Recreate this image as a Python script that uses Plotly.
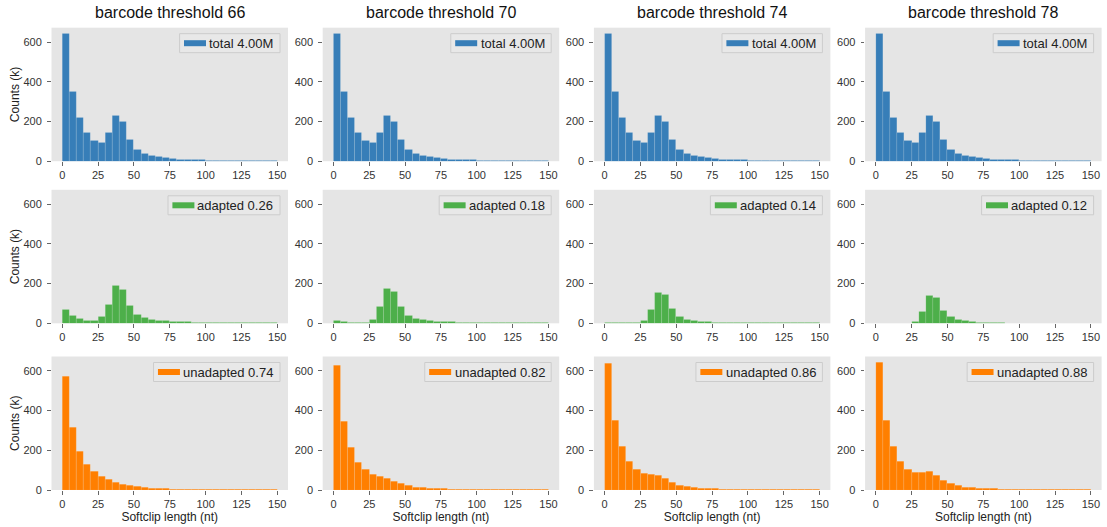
import plotly.graph_objects as go

W, H = 1107, 527
FONT = "Liberation Sans, Arial, Helvetica, sans-serif"

# ---------------- data (counts in thousands, 5-nt bins from 0 to 150) ----------------
bin_edges = list(range(0, 155, 5))
thresholds = [66, 70, 74, 78]

total_counts = [640, 348, 217, 143, 104, 94, 145, 227, 198, 109, 60, 39, 29, 22, 17,
                13, 10, 8, 7, 6, 5, 4, 3.5, 3, 2.5, 2, 1.5, 1, 0.8, 0.5]

adapted_66 = [70, 38, 23, 15, 12, 32, 95, 187, 170, 87, 43, 27, 20, 15, 12,
              9, 7, 6, 5, 4, 3, 3, 2, 2, 1.5, 1, 1, 0.5, 0.5, 0.3]
adapted_70 = [15, 10, 5, 3, 5, 20, 83, 175, 158, 82, 38, 23, 17, 12, 10,
              8, 6, 5, 4, 3, 3, 2, 2, 1.5, 1, 1, 0.5, 0.5, 0.3, 0.2]
adapted_74 = [1, 0.5, 0.5, 0.5, 1, 15, 70, 155, 145, 73, 35, 18, 12, 8, 6,
              5, 4, 3, 3, 2, 2, 1.5, 1, 1, 0.5, 0.5, 0.3, 0.3, 0.2, 0.1]
adapted_78 = [0, 0, 0, 0, 0, 8, 57, 137, 130, 63, 32, 18, 12, 7, 5,
              4, 3, 2, 0, 0, 0, 0, 0, 0, 0, 0, 0, 0, 0, 0]

unadapted_66 = [569, 314, 196, 130, 95, 69, 52, 40, 30, 23, 17, 13, 10, 8, 6,
                5, 4, 3.5, 3, 2.5, 2, 1.5, 1.2, 1, 0.8, 0.6, 0.5, 0.4, 0.3, 0.2]
unadapted_70 = [625, 346, 216, 140, 104, 77, 67, 57, 42, 32, 22, 15, 12, 9, 7,
                6, 5, 4, 3.5, 3, 2.5, 2, 1.5, 1.2, 1, 0.8, 0.6, 0.4, 0.3, 0.2]
unadapted_74 = [638, 350, 219, 144, 105, 82, 77, 73, 57, 38, 25, 17, 12, 9, 7,
                6, 5, 4, 3.5, 3, 2.5, 2, 1.5, 1.2, 1, 0.8, 0.6, 0.4, 0.3, 0.2]
unadapted_78 = [640, 351, 219, 144, 105, 87, 90, 94, 74, 49, 32, 22, 15, 11, 9,
                7, 6, 5, 4, 3.5, 3, 2.5, 2, 1.5, 1.2, 1, 0.8, 0.5, 0.3, 0.2]

total_label = "total 4.00M"
adapted_fracs = [0.26, 0.18, 0.14, 0.12]
unadapted_fracs = [0.74, 0.82, 0.86, 0.88]

x_ticks = [0, 25, 50, 75, 100, 125, 150]
y_ticks = [0, 200, 400, 600]

COL_BLUE = "#377eb8"
COL_GREEN = "#4daf4a"
COL_ORANGE = "#ff7f00"

# ---------------- layout geometry (pixels) ----------------
col_left = [51.5, 322.7, 593.9, 865.1]
col_w = 236.5
row_bottom = [161.2, 323.3, 490.0]
row_h = 133.5

def px2x(px):
    return px / W

def px2y(py):
    return 1 - py / H

# Arial / Liberation Sans advance widths (em)
CW = {c: 0.556 for c in "0123456789aodpeun"}
CW.update({".": 0.278, " ": 0.278, "t": 0.278, "l": 0.222, "M": 0.833})

def text_w(s, size):
    return sum(CW.get(c, 0.556) for c in s) * size

centers = [(a + b) / 2 for a, b in zip(bin_edges[:-1], bin_edges[1:])]
adapted = [adapted_66, adapted_70, adapted_74, adapted_78]
unadapted = [unadapted_66, unadapted_70, unadapted_74, unadapted_78]

fig = go.Figure()
shapes = []
annotations = []
layout_axes = {}

LEG_FS = 13

for r in range(3):
    for c in range(4):
        i = r * 4 + c + 1
        if r == 0:
            vals, col, lab = total_counts, COL_BLUE, total_label
        elif r == 1:
            vals, col, lab = adapted[c], COL_GREEN, f"adapted {adapted_fracs[c]:.2f}"
        else:
            vals, col, lab = unadapted[c], COL_ORANGE, f"unadapted {unadapted_fracs[c]:.2f}"
        xa = "x" if i == 1 else f"x{i}"
        ya = "y" if i == 1 else f"y{i}"
        fig.add_trace(go.Bar(
            x=centers, y=vals, width=5, name=lab,
            marker=dict(color=col, line=dict(color="rgba(255,255,255,0.22)", width=0.5)),
            xaxis=xa, yaxis=ya, showlegend=False,
        ))
        L = col_left[c]
        R = L + col_w
        B = row_bottom[r]
        T = B - row_h
        key = "" if i == 1 else str(i)
        layout_axes[f"xaxis{key}"] = dict(
            domain=[px2x(L), px2x(R)], anchor=ya, range=[-7.5, 157.5],
            tickvals=x_ticks, ticks="outside", ticklen=3.5, tickwidth=1, tickcolor="#666",
            showgrid=False, zeroline=False, showline=False,
            tickfont=dict(size=11, color="#333", family=FONT),
            title=dict(text="Softclip length (nt)" if r == 2 else "",
                       font=dict(size=12, color="#222", family=FONT), standoff=2),
            automargin=False,
        )
        layout_axes[f"yaxis{key}"] = dict(
            domain=[px2y(B), px2y(T)], anchor=xa, range=[0, 672],
            tickvals=y_ticks, ticks="outside", ticklen=3.5, tickwidth=1, tickcolor="#666",
            showgrid=False, zeroline=False, showline=False,
            tickfont=dict(size=11, color="#333", family=FONT),
            ticklabelstandoff=3,
            title=dict(text="Counts (k)" if c == 0 else "",
                       font=dict(size=12, color="#222", family=FONT), standoff=1),
            automargin=False,
        )
        # legend box
        box_r = R - 8
        box_t = T + 6
        box_b = box_t + 19
        box_cy = (box_t + box_b) / 2
        txt_r = box_r - 4.7
        txt_l = txt_r - text_w(lab, LEG_FS)
        sw_r = txt_l - 5
        sw_l = sw_r - 22
        box_l = sw_l - 4.4
        shapes.append(dict(type="rect", xref="paper", yref="paper",
                           x0=px2x(box_l), x1=px2x(box_r), y0=px2y(box_b), y1=px2y(box_t),
                           fillcolor="#e8e8e8", line=dict(color="#cccccc", width=1), layer="above"))
        shapes.append(dict(type="rect", xref="paper", yref="paper",
                           x0=px2x(sw_l), x1=px2x(sw_r), y0=px2y(box_cy + 3), y1=px2y(box_cy - 3),
                           fillcolor=col, line=dict(width=0), layer="above"))
        annotations.append(dict(text=lab, xref="paper", yref="paper", x=px2x(txt_r), y=px2y(box_cy),
                                xanchor="right", yanchor="middle", showarrow=False,
                                font=dict(size=LEG_FS, color="#222", family=FONT)))

for c, th in enumerate(thresholds):
    cx = col_left[c] + col_w / 2
    annotations.append(dict(text=f"barcode threshold {th}", xref="paper", yref="paper",
                            x=px2x(cx), y=px2y(12.8), xanchor="center", yanchor="middle",
                            showarrow=False, font=dict(size=16, color="#111", family=FONT)))

fig.update_layout(
    width=W, height=H,
    margin=dict(l=0, r=0, t=0, b=0),
    paper_bgcolor="white", plot_bgcolor="#e5e5e5",
    bargap=0, barmode="overlay",
    font=dict(family=FONT, color="#333"),
    shapes=shapes, annotations=annotations,
    **layout_axes,
)

fig.write_html("out.html")
